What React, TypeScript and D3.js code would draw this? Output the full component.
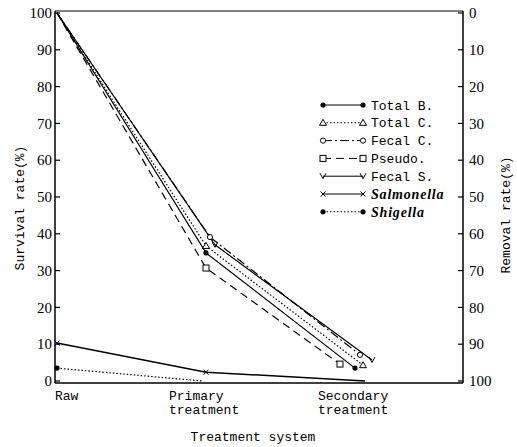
import React from "react";
import * as d3 from "d3";

// treatment stages (x), survival rate % (y)
const stages = [["Raw"], ["Primary", "treatment"], ["Secondary", "treatment"]];
const totalB = [100, 34.8, 3.5];
const totalC = [100, 36.7, 4.3];
const fecalC = [100, 39.1, 7.1];
const pseudo = [100, 30.7, 4.6];
const fecalS = [100, 37, 5.7];
const salmonella = [10.3, 2.4, 0];
const shigella = [3.5, 0];
const leftTicks = [0, 10, 20, 30, 40, 50, 60, 70, 80, 90, 100];
const rightTicks = [0, 10, 20, 30, 40, 50, 60, 70, 80, 90, 100];

type Marker = "dot" | "tri" | "circle" | "square" | "vee" | "cross";

const series = [
  { name: "Total B.", values: totalB, dash: "", marker: "dot" as Marker, dx: [0, 0, 0], italic: false, rawMark: false },
  { name: "Total C.", values: totalC, dash: "1.5,2", marker: "tri" as Marker, dx: [0, 0, 8], italic: false, rawMark: false },
  { name: "Fecal C.", values: fecalC, dash: "9,3,2,3", marker: "circle" as Marker, dx: [0, 4, 5], italic: false, rawMark: false },
  { name: "Pseudo.", values: pseudo, dash: "8,5", marker: "square" as Marker, dx: [0, 0, -15], italic: false, rawMark: false },
  { name: "Fecal S.", values: fecalS, dash: "", marker: "vee" as Marker, dx: [0, 9, 17], italic: false, rawMark: false },
  { name: "Salmonella", values: salmonella, dash: "", marker: "cross" as Marker, dx: [0, 0, 10], italic: true, rawMark: true },
  { name: "Shigella", values: shigella, dash: "1.5,2", marker: "dot" as Marker, dx: [0, -4, 0], italic: true, rawMark: true },
];

const W = 517;
const H = 447;
const left = 55;
const right = 463;
const top = 11;
const bottom = 383;

const mono = "'Liberation Mono', 'DejaVu Sans Mono', monospace";
const serif = "'Liberation Serif', 'DejaVu Serif', serif";

function MarkerShape({ type, x, y }: { type: Marker; x: number; y: number }) {
  const s = { stroke: "#000", strokeWidth: 1 };
  switch (type) {
    case "dot":
      return <circle cx={x} cy={y} r={2.6} fill="#000" />;
    case "tri":
      return <path d={`M${x},${y - 3.5}L${x + 3.5},${y + 2.5}L${x - 3.5},${y + 2.5}Z`} fill="#fff" {...s} />;
    case "circle":
      return <circle cx={x} cy={y} r={2.6} fill="#fff" {...s} />;
    case "square":
      return <rect x={x - 3} y={y - 3} width={6} height={6} fill="#fff" {...s} />;
    case "vee":
      return <path d={`M${x - 3},${y - 3}L${x},${y + 2.5}L${x + 3},${y - 3}`} fill="none" {...s} />;
    case "cross":
      return <path d={`M${x - 2.5},${y - 2.5}L${x + 2.5},${y + 2.5}M${x + 2.5},${y - 2.5}L${x - 2.5},${y + 2.5}`} fill="none" {...s} />;
  }
}

export default function App() {
  const x = d3.scaleLinear().domain([0, 2]).range([57, 355]);
  const y = d3.scaleLinear().domain([0, 100]).range([381, 13]);
  const yR = d3.scaleLinear().domain([0, 100]).range([13, 381]);

  const pts = (s: (typeof series)[number]) =>
    s.values.map((v, i) => [x(i) + s.dx[i], y(v)] as [number, number]);
  const line = d3.line<[number, number]>();

  const legX1 = 323;
  const legX2 = 363;
  const legY0 = 105;
  const legStep = 17.8;

  return (
    <svg
      width={W}
      height={H}
      style={{ position: "absolute", left: 0, top: 0, background: "#fff" }}
    >
      {/* frame */}
      <line x1={left} x2={right} y1={top} y2={top} stroke="#000" strokeWidth={1} />
      <line x1={left} x2={left} y1={top} y2={bottom} stroke="#000" strokeWidth={1.5} />
      <line x1={right} x2={right} y1={top} y2={bottom} stroke="#000" strokeWidth={1.5} />
      <line x1={left} x2={right} y1={bottom} y2={bottom} stroke="#000" strokeWidth={1.5} />

      {/* left axis */}
      {leftTicks.map((t) => (
        <g key={"l" + t}>
          <line x1={left} x2={left + 5} y1={y(t)} y2={y(t)} stroke="#000" strokeWidth={1.2} />
          <text x={left - 3} y={y(t)} dy="0.35em" textAnchor="end" fontFamily={serif} fontSize={15}>
            {t}
          </text>
        </g>
      ))}
      {/* right axis */}
      {rightTicks.map((t) => (
        <g key={"r" + t}>
          <line x1={right - 5} x2={right} y1={yR(t)} y2={yR(t)} stroke="#000" strokeWidth={1.2} />
          <text x={right + 6} y={yR(t)} dy="0.35em" textAnchor="start" fontFamily={serif} fontSize={15}>
            {t}
          </text>
        </g>
      ))}

      {/* series lines */}
      {series.map((s) => (
        <path
          key={s.name}
          d={line(pts(s)) ?? ""}
          fill="none"
          stroke="#000"
          strokeWidth={s.name === "Salmonella" ? 1.5 : 1.2}
          strokeDasharray={s.dash || undefined}
        />
      ))}
      {series.map((s) =>
        pts(s).map(([px, py], i) =>
          s.values[i] === 0 || (i === 0 && !s.rawMark) ? null : (
            <MarkerShape key={s.name + i} type={s.marker} x={px} y={py} />
          )
        )
      )}

      {/* x labels */}
      {stages.map((lines, i) => (
        <text
          key={i}
          x={i === 0 ? 55 : x(i) - 37}
          y={400}
          fontFamily={mono}
          fontSize={13}
          textAnchor="start"
        >
          {lines.map((l, j) => (
            <tspan key={j} x={i === 0 ? 55 : x(i) - 37} dy={j === 0 ? 0 : 14}>
              {l}
            </tspan>
          ))}
        </text>
      ))}
      <text x={253} y={441} textAnchor="middle" fontFamily={mono} fontSize={13}>
        Treatment system
      </text>

      {/* y titles */}
      <text
        transform={`translate(24,208) rotate(-90)`}
        textAnchor="middle"
        fontFamily={mono}
        fontSize={13}
      >
        Survival rate(%)
      </text>
      <text
        transform={`translate(510,215) rotate(-90)`}
        textAnchor="middle"
        fontFamily={mono}
        fontSize={13}
      >
        Removal rate(%)
      </text>

      {/* legend */}
      {series.map((s, i) => {
        const ly = legY0 + i * legStep;
        return (
          <g key={"leg" + s.name}>
            <line
              x1={legX1}
              x2={legX2}
              y1={ly}
              y2={ly}
              stroke="#000"
              strokeWidth={1}
              strokeDasharray={s.dash || undefined}
            />
            <MarkerShape type={s.marker} x={legX1} y={ly} />
            <MarkerShape type={s.marker} x={legX2} y={ly} />
            <text
              x={371}
              y={ly}
              dy="0.35em"
              fontFamily={s.italic ? serif : mono}
              fontStyle={s.italic ? "italic" : "normal"}
              fontWeight={s.italic ? "bold" : "normal"}
              fontSize={s.italic ? 14 : 13}
              letterSpacing={s.italic ? 0.8 : 0}
            >
              {s.name}
            </text>
          </g>
        );
      })}
    </svg>
  );
}
